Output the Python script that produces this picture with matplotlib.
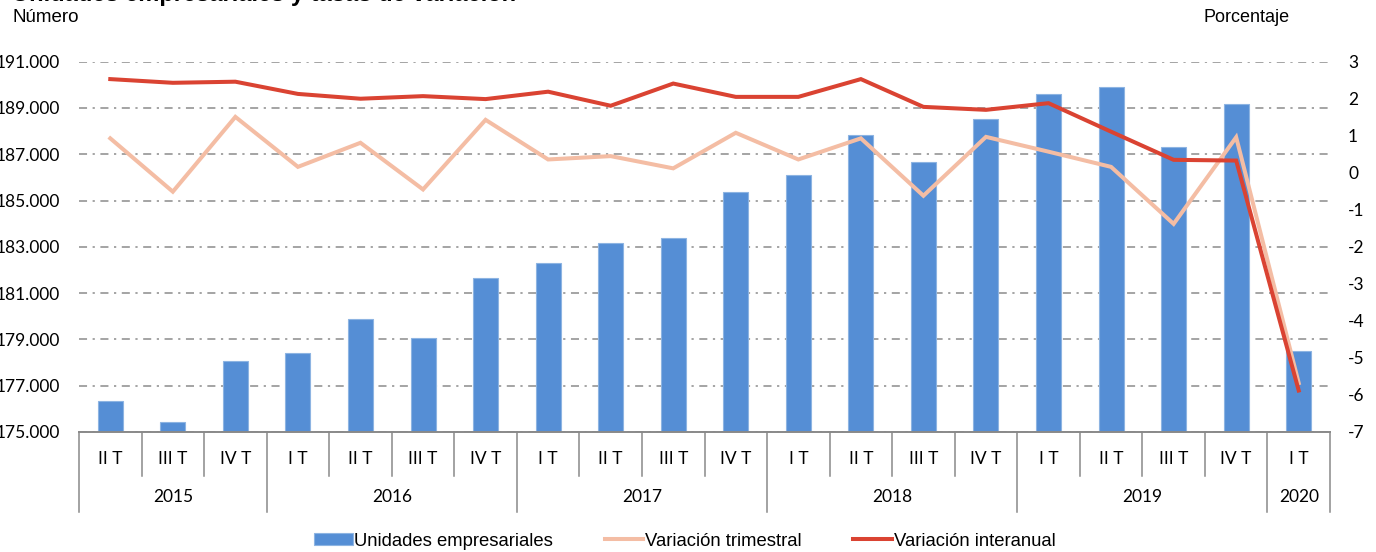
import matplotlib
matplotlib.use("Agg")
import matplotlib.pyplot as plt
from matplotlib.transforms import blended_transform_factory
from matplotlib.patches import Patch
from matplotlib.lines import Line2D

plt.rcParams['axes.unicode_minus'] = False
plt.rcParams['lines.scale_dashes'] = False

# ---- data ----
years = ["2015", "2016", "2017", "2018", "2019", "2020"]
quarters_per_year = [3, 4, 4, 4, 4, 1]
quarter_labels = ["II T", "III T", "IV T",
                  "I T", "II T", "III T", "IV T",
                  "I T", "II T", "III T", "IV T",
                  "I T", "II T", "III T", "IV T",
                  "I T", "II T", "III T", "IV T",
                  "I T"]
unidades = [176330, 175430, 178080,
            178400, 179870, 179070, 181640,
            182310, 183150, 183380, 185370,
            186090, 187820, 186650, 188520,
            189600, 189920, 187310, 189170,
            178490]
var_trimestral = [0.93, -0.51, 1.51,
                  0.16, 0.81, -0.45, 1.43,
                  0.36, 0.45, 0.12, 1.08,
                  0.36, 0.93, -0.62, 0.97,
                  0.57, 0.16, -1.38, 0.96,
                  -5.68]
var_interanual = [2.53, 2.43, 2.46,
                  2.13, 2.00, 2.07, 1.99,
                  2.19, 1.81, 2.41, 2.05,
                  2.05, 2.53, 1.78, 1.70,
                  1.88, 1.11, 0.35, 0.33,
                  -5.88]
left_ticks = list(range(175000, 191001, 2000))
right_ticks = list(range(-7, 4))

series_names = ["Unidades empresariales", "Variación trimestral", "Variación interanual"]

# ---- style ----
BAR = "#558ED5"
BAR_EDGE = "#8DB4E2"
LIGHT = "#F4BDA4"
RED = "#DA4332"
GRID = "#8C8C8C"
AXIS = "#898989"
TICKFONT = "Lato"
TEXTFONT = "Liberation Sans"
TICKSIZE = 12.5

W, H = 1376, 552
fig = plt.figure(figsize=(W / 100, H / 100), dpi=100)
x0, x1 = 79, 1330
y0, y1 = 61.7, 432
ax = fig.add_axes([x0 / W, 1 - y1 / H, (x1 - x0) / W, (y1 - y0) / H])

n = len(unidades)
xs = [i + 0.5 for i in range(n)]

ax.bar(xs, unidades, width=0.4, color=BAR, edgecolor=BAR_EDGE, linewidth=0.8, zorder=2)
ax.set_xlim(0, n)
ax.set_ylim(left_ticks[0], left_ticks[-1])
ax.set_yticks(left_ticks)
ax.set_yticklabels([f"{v:,}".replace(",", ".") for v in left_ticks],
                   fontfamily=TICKFONT, fontsize=TICKSIZE)
ax.tick_params(axis='y', length=0, pad=13.5, colors="black")
ax.set_xticks([])
ax.set_axisbelow(True)
ax.yaxis.grid(True, color=GRID, linewidth=1.1, linestyle=(0, (5.8, 4.0, 1.6, 4.0)))
for s in ["left", "right", "top"]:
    ax.spines[s].set_visible(False)
ax.spines["bottom"].set_color(AXIS)
ax.spines["bottom"].set_linewidth(1.4)

ax2 = ax.twinx()
ax2.plot(xs, var_trimestral, color=LIGHT, linewidth=2.9, solid_joinstyle='miter', zorder=3)
ax2.plot(xs, var_interanual, color=RED, linewidth=2.9, solid_joinstyle='miter', zorder=4)
ax2.set_ylim(right_ticks[0], right_ticks[-1])
ax2.set_yticks(right_ticks)
ax2.set_yticklabels([str(v) for v in right_ticks], fontfamily=TICKFONT, fontsize=TICKSIZE)
ax2.tick_params(axis='y', length=0, pad=13, colors="black")
for s in ax2.spines.values():
    s.set_visible(False)

# ---- multi-level category axis ----
tr = blended_transform_factory(ax.transData, ax.transAxes)
q_bottom = -(476 - y1) / (y1 - y0)
y_bottom = -(512 - y1) / (y1 - y0)
q_text = -(459 - y1) / (y1 - y0)
y_text = -(497 - y1) / (y1 - y0)

boundaries = [0]
for q in quarters_per_year:
    boundaries.append(boundaries[-1] + q)

for i in range(n + 1):
    bottom = y_bottom if i in boundaries else q_bottom
    ax.plot([i, i], [0, bottom], transform=tr, clip_on=False, color=AXIS, linewidth=1.1)
for i, lab in enumerate(quarter_labels):
    ax.text(i + 0.5, q_text, lab, transform=tr, ha='center', va='center',
            fontfamily=TICKFONT, fontsize=TICKSIZE)
for k, yr in enumerate(years):
    mid = (boundaries[k] + boundaries[k + 1]) / 2
    ax.text(mid, y_text, yr, transform=tr, ha='center', va='center',
            fontfamily=TICKFONT, fontsize=TICKSIZE)

# ---- titles ----
fig.text(12 / W, 1 - 1.5 / H, "Unidades empresariales y tasas de variación",
         fontfamily=TEXTFONT, fontsize=17, fontweight='bold', va='baseline', ha='left')
fig.text(13 / W, 1 - 17 / H, "Número", fontfamily=TEXTFONT, fontsize=13.5,
         va='center', ha='left')
fig.text(1290 / W, 1 - 18 / H, "Porcentaje", fontfamily=TEXTFONT, fontsize=13,
         va='center', ha='right')

# ---- legend ----
handles = [Patch(facecolor=BAR, edgecolor=BAR_EDGE, linewidth=0.8),
           Line2D([], [], color=LIGHT, linewidth=2.9),
           Line2D([], [], color=RED, linewidth=2.9)]
leg = fig.legend(handles, series_names, loc='center', bbox_to_anchor=(684.5 / W, 1 - 541 / H),
                 ncol=3, frameon=False, prop={'family': TEXTFONT, 'size': 13.3},
                 handlelength=2.1, handleheight=0.55, handletextpad=0.08,
                 columnspacing=2.8, borderpad=0, borderaxespad=0)

fig.savefig("out.png", dpi=100)
